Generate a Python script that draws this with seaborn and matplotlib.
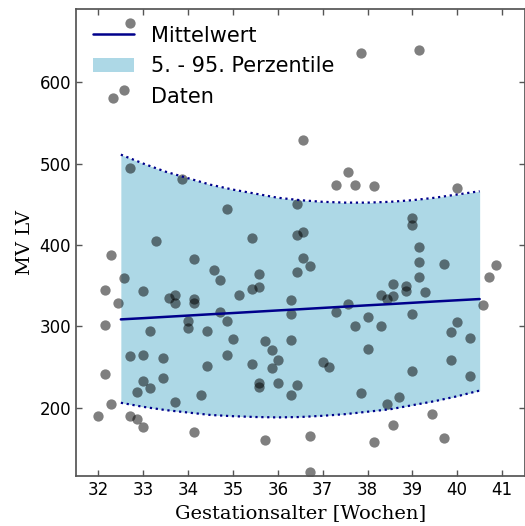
import matplotlib
matplotlib.use("Agg")
import matplotlib.pyplot as plt
import seaborn as sns

# Reference curves of the left-ventricular value by gestational age
weeks = [32.5, 33.0, 33.5, 34.0, 34.5, 35.0, 35.5, 36.0, 36.5,
         37.0, 37.5, 38.0, 38.5, 39.0, 39.5, 40.0, 40.5]
mean_lv = [308.5, 310.0, 311.6, 313.2, 314.8, 316.3, 317.9, 319.5, 321.0,
           322.6, 324.2, 325.8, 327.3, 328.9, 330.5, 332.0, 333.5]
p05_lv = [206.0, 201.0, 197.0, 194.0, 191.0, 189.5, 188.5, 188.0, 188.5,
          190.0, 192.0, 195.0, 198.0, 203.0, 208.0, 214.0, 221.0]
p95_lv = [511.0, 500.0, 490.0, 482.0, 474.0, 468.0, 463.0, 458.0, 455.0,
          453.0, 452.0, 452.0, 453.0, 455.0, 458.0, 462.0, 466.0]

# Individual measurements (gestational age in weeks + days/7)
ga_weeks = [
    32.71, 37.86, 39.14, 32.57, 36.57, 37.57, 37.29, 37.71, 38.14, 40.00,
    36.43, 39.00, 39.00, 36.43, 36.57, 39.14, 32.71, 33.86, 34.86, 33.29,
    35.43, 32.29, 34.14, 34.57, 34.71, 32.57, 32.14, 33.00, 33.57, 33.71,
    33.71, 34.14, 34.14, 32.43, 34.71, 36.57, 36.71, 36.43, 35.57, 35.43,
    35.57, 35.14, 36.29, 37.57, 36.29, 37.29, 39.14, 39.71, 40.86, 40.71,
    39.14, 38.57, 38.86, 38.86, 39.29, 38.29, 38.57, 38.43, 40.57, 39.00,
    38.00, 32.14, 34.00, 34.00, 33.14, 34.43, 34.86, 32.71, 33.00, 33.43,
    34.86, 34.43, 32.14, 33.43, 33.00, 33.14, 32.86, 34.29, 33.71, 32.29,
    32.00, 32.71, 32.86, 33.00, 34.14, 35.00, 35.71, 36.29, 35.86, 36.00,
    35.86, 35.43, 35.57, 35.57, 36.00, 36.43, 36.29, 35.71, 37.71, 38.29,
    38.00, 37.00, 37.14, 37.86, 36.71, 36.71, 40.00, 39.86, 40.29, 39.86,
    39.00, 40.29, 38.71, 38.43, 39.43, 38.57, 38.14, 39.71,
]
mv_lv = [
    672.5, 636.5, 639.5, 590.0, 529.0, 490.0, 474.0, 474.0, 472.0, 470.5,
    450.0, 432.5, 425.0, 412.0, 416.0, 398.0, 494.0, 481.6, 444.0, 405.4,
    408.0, 387.4, 383.2, 369.0, 357.0, 359.0, 344.7, 344.0, 335.3, 338.4,
    329.0, 333.3, 328.4, 329.0, 317.3, 384.0, 374.0, 367.0, 364.4, 346.3,
    348.0, 338.3, 332.7, 327.0, 315.6, 317.0, 379.6, 377.0, 375.5, 361.0,
    361.0, 352.0, 350.0, 343.0, 342.0, 339.0, 337.3, 333.6, 326.3, 315.6,
    312.0, 302.0, 306.2, 297.6, 294.0, 294.3, 306.4, 264.0, 264.8, 261.0,
    264.4, 251.0, 241.8, 236.0, 232.8, 224.6, 219.3, 215.6, 207.4, 204.6,
    189.8, 189.8, 186.0, 176.3, 169.8, 284.0, 282.4, 283.0, 270.6, 259.0,
    249.3, 254.2, 230.0, 226.0, 230.7, 227.5, 215.6, 160.3, 300.0, 300.0,
    272.0, 256.0, 250.0, 217.7, 165.5, 121.3, 305.7, 293.4, 285.3, 258.3,
    244.7, 239.3, 212.7, 204.0, 192.6, 179.0, 158.0, 163.0,
]

x_ticks = [32, 33, 34, 35, 36, 37, 38, 39, 40, 41]
y_ticks = [200, 300, 400, 500, 600]

sns.set_style("ticks")
plt.rcParams["font.family"] = ["DejaVu Sans"]
plt.rcParams["text.color"] = "black"

W, H = 525, 526
fig = plt.figure(figsize=(W / 100, H / 100), dpi=100)
ax = fig.add_axes([76 / W, 1 - 476 / H, (524.5 - 76) / W, (476 - 9) / H])

ax.fill_between(weeks, p05_lv, p95_lv, color="lightblue", linewidth=0,
                label="5. - 95. Perzentile", zorder=1)
sns.scatterplot(x=ga_weeks, y=mv_lv, color="black", alpha=0.5, s=55,
                linewidth=0, label="Daten", ax=ax, zorder=2)
sns.lineplot(x=weeks, y=p95_lv, color="darkblue", linestyle=":",
             linewidth=1.6, ax=ax, zorder=3)
sns.lineplot(x=weeks, y=p05_lv, color="darkblue", linestyle=":",
             linewidth=1.6, ax=ax, zorder=3)
sns.lineplot(x=weeks, y=mean_lv, color="darkblue", linewidth=1.8,
             label="Mittelwert", ax=ax, zorder=4)

ax.set_xlim(31.5, 41.5)
ax.set_ylim(116, 690)
ax.set_xticks(x_ticks)
ax.set_yticks(y_ticks)

edge = "#555555"
for sp in ax.spines.values():
    sp.set_color(edge)
    sp.set_linewidth(1.25)
    sp.set_visible(True)
ax.tick_params(direction="in", top=True, right=True, length=4.5, width=1,
               color=edge, labelcolor="black", labelsize=12)

ax.set_xlabel("Gestationsalter [Wochen]", family="DejaVu Serif",
              fontsize=14, color="black")
ax.set_ylabel("MV LV", family="DejaVu Serif", fontsize=14, color="black")

handles, labels = ax.get_legend_handles_labels()
order = ["Mittelwert", "5. - 95. Perzentile", "Daten"]
hmap = dict(zip(labels, handles))
ax.legend([hmap[k] for k in order], order, loc="upper left", frameon=False,
          fontsize=15, labelspacing=0.52, borderaxespad=0.4)

fig.savefig("out.png", dpi=100)
